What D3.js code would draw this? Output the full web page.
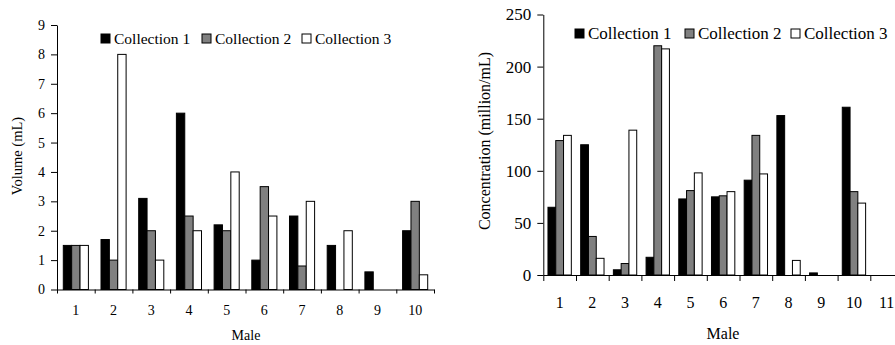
<!DOCTYPE html>
<html><head><meta charset="utf-8">
<script src="https://cdn.jsdelivr.net/npm/d3@7/dist/d3.min.js"></script>
<style>
body{margin:0;background:#fff;}
svg{display:block;font-family:"Liberation Serif","Times New Roman",serif;}
</style></head>
<body>
<svg id="c" width="895" height="345"></svg>
<script>
const series = ["Collection 1", "Collection 2", "Collection 3"];
const colors = ["#000000", "#808080", "#ffffff"];

const volMales = ["1","2","3","4","5","6","7","8","9","10"];
const volC1 = [1.5, 1.7, 3.1, 6.0, 2.2, 1.0, 2.5, 1.5, 0.6, 2.0];
const volC2 = [1.5, 1.0, 2.0, 2.5, 2.0, 3.5, 0.8, 0, 0, 3.0];
const volC3 = [1.5, 8.0, 1.0, 2.0, 4.0, 2.5, 3.0, 2.0, 0, 0.5];
const volTicks = [0,1,2,3,4,5,6,7,8,9];

const conMales = ["1","2","3","4","5","6","7","8","9","10","11"];
const conC1 = [65, 125, 5, 17, 73, 75, 91, 153, 2, 161, 0];
const conC2 = [129, 37, 11, 220, 81, 76, 134, 0, 0, 80, 0];
const conC3 = [134, 16, 139, 217, 98, 80, 97, 14, 0, 69, 0];
const conTicks = [0,50,100,150,200,250];

const svg = d3.select("#c");

function drawChart(cfg) {
  const g = svg.append("g");
  const x = d3.scaleBand().domain(cfg.cats).range([cfg.x0, cfg.x1]);
  const xl = d3.scaleLinear().domain([0, cfg.cats.length]).range([cfg.x0, cfg.x1]);
  const y = d3.scaleLinear().domain([0, cfg.yMax]).range([cfg.y0, cfg.y1]);
  const bw = x.bandwidth() * cfg.barFrac;
  const off = (x.bandwidth() - 3 * bw) / 2;
  const data = cfg.vals;

  // bars
  data.forEach((arr, si) => {
    g.append("g").selectAll("rect")
      .data(arr.map((v, i) => ({v, c: cfg.cats[i]})).filter(d => d.v > 0))
      .join("rect")
      .attr("x", d => x(d.c) + off + si * bw)
      .attr("y", d => y(d.v))
      .attr("width", bw)
      .attr("height", d => y(0) - y(d.v))
      .attr("fill", colors[si])
      .attr("stroke", "#000")
      .attr("stroke-width", 1);
  });

  // y axis
  const ya = g.append("g").attr("transform", `translate(${cfg.x0},0)`)
    .call(d3.axisLeft(y).tickValues(cfg.yTicks).tickSize(6).tickSizeOuter(0).tickPadding(6));
  ya.selectAll("text").attr("font-size", cfg.yTickFont).attr("font-family", "Liberation Serif").attr("fill", "#000");
  ya.selectAll("line,path").attr("stroke", "#000");

  // x axis boundary ticks
  const xa = g.append("g").attr("transform", `translate(0,${cfg.y0})`)
    .call(d3.axisBottom(xl).tickValues(d3.range(cfg.cats.length + 1)).tickSize(cfg.xTick).tickSizeOuter(0).tickFormat(""));
  xa.selectAll("line,path").attr("stroke", "#000");
  // x labels
  const xb = g.append("g").attr("transform", `translate(0,${cfg.y0})`)
    .call(d3.axisBottom(x).tickSize(0).tickPadding(cfg.xLabPad));
  xb.select(".domain").remove();
  xb.selectAll("text").attr("font-size", cfg.tickFont).attr("font-family", "Liberation Serif").attr("fill", "#000");

  // axis titles
  g.append("text").attr("x", cfg.xTitleX).attr("y", cfg.xTitleY)
    .attr("text-anchor", "middle").attr("font-size", cfg.titleFont).text("Male");
  g.append("text").attr("transform", `translate(${cfg.yTitleX},${cfg.yTitleY}) rotate(-90)`)
    .attr("text-anchor", "middle").attr("font-size", cfg.yTitleFont).text(cfg.yTitle);

  // legend
  series.forEach((s, i) => {
    const lx = cfg.legX[i];
    g.append("rect").attr("x", lx).attr("y", cfg.legY - cfg.legSq - 1)
      .attr("width", cfg.legSq).attr("height", cfg.legSq)
      .attr("fill", colors[i]).attr("stroke", "#000").attr("stroke-width", 1);
    g.append("text").attr("x", lx + cfg.legSq + 4).attr("y", cfg.legY)
      .attr("font-size", cfg.legFont).text(s);
  });
}

drawChart({
  cats: volMales, vals: [volC1, volC2, volC3],
  x0: 57, x1: 434, y0: 289.5, y1: 25, yMax: 9, yTicks: volTicks,
  barFrac: 0.222, tickFont: 14, yTickFont: 14, xTick: 4, xLabPad: 16,
  xTitleX: 246, xTitleY: 340, titleFont: 14,
  yTitle: "Volume (mL)", yTitleX: 22, yTitleY: 156, yTitleFont: 14.5,
  legX: [101, 202, 302], legY: 44, legSq: 9, legFont: 15.5
});

drawChart({
  cats: conMales, vals: [conC1, conC2, conC3],
  x0: 543.3, x1: 903, y0: 275, y1: 14.5, yMax: 250, yTicks: conTicks,
  barFrac: 0.238, tickFont: 16, yTickFont: 17, xTick: 6, xLabPad: 22,
  xTitleX: 723, xTitleY: 339, titleFont: 16,
  yTitle: "Concentration (million/mL)", yTitleX: 490, yTitleY: 141, yTitleFont: 16,
  legX: [575, 685, 791], legY: 39, legSq: 9, legFont: 17
});
</script>
</body></html>
